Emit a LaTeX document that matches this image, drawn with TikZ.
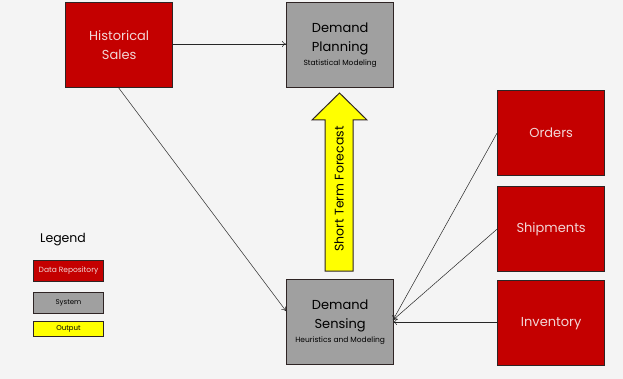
\documentclass[tikz,border=0pt]{standalone}
\usepackage{fontspec}
\setmainfont{Poppins}
\usetikzlibrary{arrows.meta}
\definecolor{bg}{HTML}{F4F4F4}
\definecolor{redf}{HTML}{C40000}
\definecolor{grayf}{HTML}{A0A0A0}
\definecolor{yel}{HTML}{FFFF00}
\definecolor{edge}{HTML}{2E2424}
\definecolor{pinktext}{HTML}{F2D6D6}
\tikzset{
  x=1pt,y=-1pt,
  box/.style={draw=edge,line width=1.3pt,minimum width=107pt,minimum height=85pt,inner sep=2pt,align=center,anchor=north west},
  repo/.style={box,fill=redf,text=pinktext,font=\fontsize{13}{19}\selectfont},
  sys/.style={box,fill=grayf,text=black,font=\fontsize{13}{19}\selectfont},
  leg/.style={draw=edge,line width=1pt,minimum width=70pt,minimum height=21pt,inner sep=0pt,anchor=north west,font=\fontsize{7}{8}\selectfont},
  conn/.style={draw=black!85,line width=0.5pt,-{To[length=4pt,width=6pt]}}
}
\begin{document}
\begin{tikzpicture}
\fill[bg] (0,0) rectangle (623,379);
\useasboundingbox (0,0) rectangle (623,379);
\node[repo] (hs) at (65,2) {Historical\\Sales};
\node[sys] (dp) at (286,2) {Demand\\Planning\\[-5pt]{\fontsize{7.5}{8}\selectfont Statistical Modeling}};
\node[sys] (ds) at (286,279) {Demand\\Sensing\\[-5pt]{\fontsize{7.5}{8}\selectfont Heuristics and Modeling}};
\node[repo] (or) at (497,90) {Orders};
\node[repo] (sh) at (497,186) {Shipments};
\node[repo] (in) at (497,280) {Inventory};
% yellow arrow
\draw[draw=edge,line width=1pt,fill=yel] (325,271) -- (325,120) -- (312,120) -- (339.5,93) -- (367,120) -- (353,120) -- (353,271) -- cycle;
\node[rotate=90,font=\fontsize{12.5}{14}\selectfont] (stf) at (339,189) {Short Term Forecast};
% connectors
\coordinate (hsb) at (118,87);
\coordinate (dsl) at (286,311);
\draw[conn] (hs.east |- 0,44) -- (dp.west |- 0,44);
\draw[conn] (hsb) -- (dsl);
\coordinate (dsr) at (393,320);
\draw[conn] (or.west) -- (dsr);
\draw[conn] (sh.west) -- (dsr);
\draw[conn] (in.west |- 0,322) -- (dsr |- 0,322);
% legend
\node[font=\fontsize{12.5}{14}\selectfont] (lg) at (63,240) {Legend};
\node[leg,fill=redf,text=pinktext,font=\fontsize{7.5}{8}\selectfont] (l1) at (33,260) {Data Repository};
\node[leg,fill=grayf] (l2) at (33,292) {System};
\node[leg,fill=yel,minimum height=15pt] (l3) at (33,321) {Output};
\end{tikzpicture}
\end{document}
